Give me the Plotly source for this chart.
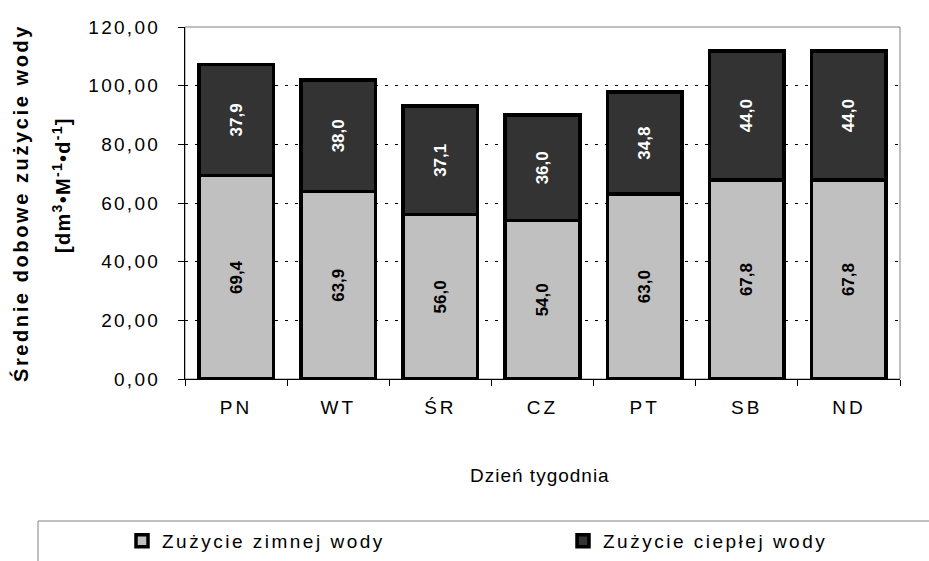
import plotly.graph_objects as go

days = ["PN", "WT", "ŚR", "CZ", "PT", "SB", "ND"]
cold = [69.4, 63.9, 56.0, 54.0, 63.0, 67.8, 67.8]
hot = [37.9, 38.0, 37.1, 36.0, 34.8, 44.0, 44.0]
cold_name = "Zużycie zimnej wody"
hot_name = "Zużycie ciepłej wody"
y_ticks = [0, 20, 40, 60, 80, 100, 120]
y_title_1 = "Średnie dobowe zużycie wody"
y_title_2 = "[dm<sup>3</sup>•M<sup>-1</sup>•d<sup>-1</sup>]"
x_title = "Dzień tygodnia"

FONT = "Liberation Sans, Arial, sans-serif"


def spaced(t, ls):
    return '<span style="letter-spacing:%spx">%s</span>' % (ls, t)


fig = go.Figure()
fig.add_trace(go.Bar(
    x=days, y=cold, name=spaced(cold_name, 2.5), legend="legend",
    marker=dict(color="#c0c0c0", line=dict(color="black", width=3.5)),
    texttemplate="%{y:.1f}", textposition="inside", insidetextanchor="middle",
    textangle=-90, constraintext="none",
    textfont=dict(family=FONT, size=17, color="black", weight="bold"),
))
fig.add_trace(go.Bar(
    x=days, y=hot, name=spaced(hot_name, 2.5), legend="legend2",
    marker=dict(color="#333333", line=dict(color="black", width=3.5)),
    texttemplate="%{y:.1f}", textposition="inside", insidetextanchor="middle",
    textangle=-90, constraintext="none",
    textfont=dict(family=FONT, size=17, color="white", weight="bold"),
))

L, R, T, B = 185, 29, 27, 182
W, H = 929, 561
pw, ph = W - L - R, H - T - B


def px_x(p):
    return (p - L) / pw


def px_y(p):
    return (H - B - p) / ph


legend_common = dict(
    orientation="h", yanchor="middle", xanchor="left",
    xref="container", yref="container",
    font=dict(family=FONT, size=19, color="black"),
    bgcolor="rgba(0,0,0,0)", borderwidth=0,
)

fig.update_layout(
    width=W, height=H,
    margin=dict(l=L, r=R, t=T, b=B, autoexpand=False),
    paper_bgcolor="white", plot_bgcolor="white",
    barmode="stack", bargap=0.27,
    separators=", ",
    font=dict(family=FONT, size=19, color="black"),
    showlegend=True,
    legend=dict(x=122 / W, y=1 - 541 / H, **legend_common),
    legend2=dict(x=563 / W, y=1 - 541 / H, **legend_common),
    xaxis=dict(
        showline=True, linecolor="black", linewidth=1,
        ticks="outside", ticklen=6, tickcolor="black", tickson="boundaries",
        tickvals=days, ticktext=[spaced(d, 3) for d in days],
        showgrid=False, tickfont=dict(size=19), ticklabelstandoff=11,
    ),
    yaxis=dict(
        range=[0, 120], tickvals=y_ticks,
        ticktext=[spaced(("%.2f" % v).replace(".", ","), 2.3) for v in y_ticks],
        showline=True, linecolor="black", linewidth=1,
        ticks="outside", ticklen=6, tickcolor="black",
        showgrid=True, gridcolor="black", gridwidth=1, griddash="3px,7px",
        zeroline=False, tickfont=dict(size=19), ticklabelstandoff=14,
    ),
    shapes=[
        dict(type="rect", xref="paper", yref="paper", x0=0, x1=1, y0=0, y1=1,
             line=dict(color="#808080", width=1), layer="below"),
        dict(type="rect", xref="paper", yref="paper",
             x0=px_x(38), x1=px_x(960), y0=px_y(521), y1=px_y(600),
             line=dict(color="#808080", width=1), layer="below"),
    ],
    annotations=[
        dict(text="<b>" + spaced(y_title_1, 2.6) + "</b>", xref="paper", yref="paper",
             x=px_x(20), y=px_y(203), xanchor="center", yanchor="middle",
             textangle=-90, showarrow=False, font=dict(size=20)),
        dict(text="<b>" + spaced(y_title_2, 1.3) + "</b>", xref="paper", yref="paper",
             x=px_x(61), y=px_y(185), xanchor="center", yanchor="middle",
             textangle=-90, showarrow=False, font=dict(size=20)),
        dict(text=spaced(x_title, 1.0), xref="paper", yref="paper",
             x=px_x(540), y=px_y(475), xanchor="center", yanchor="middle",
             showarrow=False, font=dict(size=19)),
    ],
)

fig.write_html(
    "out.html",
    config={"displayModeBar": False},
    post_script="document.body.style.margin='0px';document.body.style.overflow='hidden';",
)
